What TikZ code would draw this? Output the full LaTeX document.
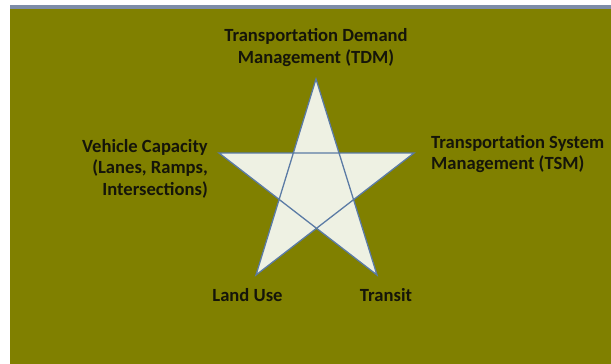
\documentclass[tikz,border=0pt]{standalone}
\usepackage{fontspec}
\setmainfont{Carlito}
\definecolor{olivebg}{HTML}{808000}
\definecolor{starfill}{HTML}{EEF1E3}
\definecolor{starline}{HTML}{5B7BA5}
\definecolor{topline}{HTML}{7D8CA8}
\definecolor{labeltext}{HTML}{15150A}
\begin{document}
\begin{tikzpicture}[x=1pt,y=1pt,
  lbl/.style={font=\fontsize{18.6}{21.5}\selectfont\bfseries, text=labeltext, inner sep=0pt},
  starstyle/.style={fill=starfill, draw=starline, line width=1.3pt, line join=miter}]
\useasboundingbox (0,0) rectangle (611,-364);
\fill[white] (0,0) rectangle (611,-364);
\fill[olivebg] (10,-9) rectangle (611,-364);
\fill[topline] (10,-5) rectangle (611,-9);
% star points
\coordinate (top) at (316,-79);
\coordinate (lft) at (219,-153);
\coordinate (rgt) at (414,-153);
\coordinate (bl) at (256,-275);
\coordinate (br) at (377,-275);
\draw[starstyle] (top) -- (bl) -- (rgt) -- (lft) -- (br) -- cycle;
% labels
\node[lbl, align=center] (tdm) at (316,-47.5) {Transportation Demand\\Management (TDM)};
\node[lbl, align=right, anchor=east] (vc) at (208,-168.5) {Vehicle Capacity\\(Lanes, Ramps,\\Intersections)};
\node[lbl, align=left, anchor=west] (tsm) at (431,-154) {Transportation System\\Management (TSM)};
\node[lbl] (lu) at (247.5,-295) {Land Use};
\node[lbl] (tr) at (386,-295) {Transit};
\end{tikzpicture}
\end{document}
